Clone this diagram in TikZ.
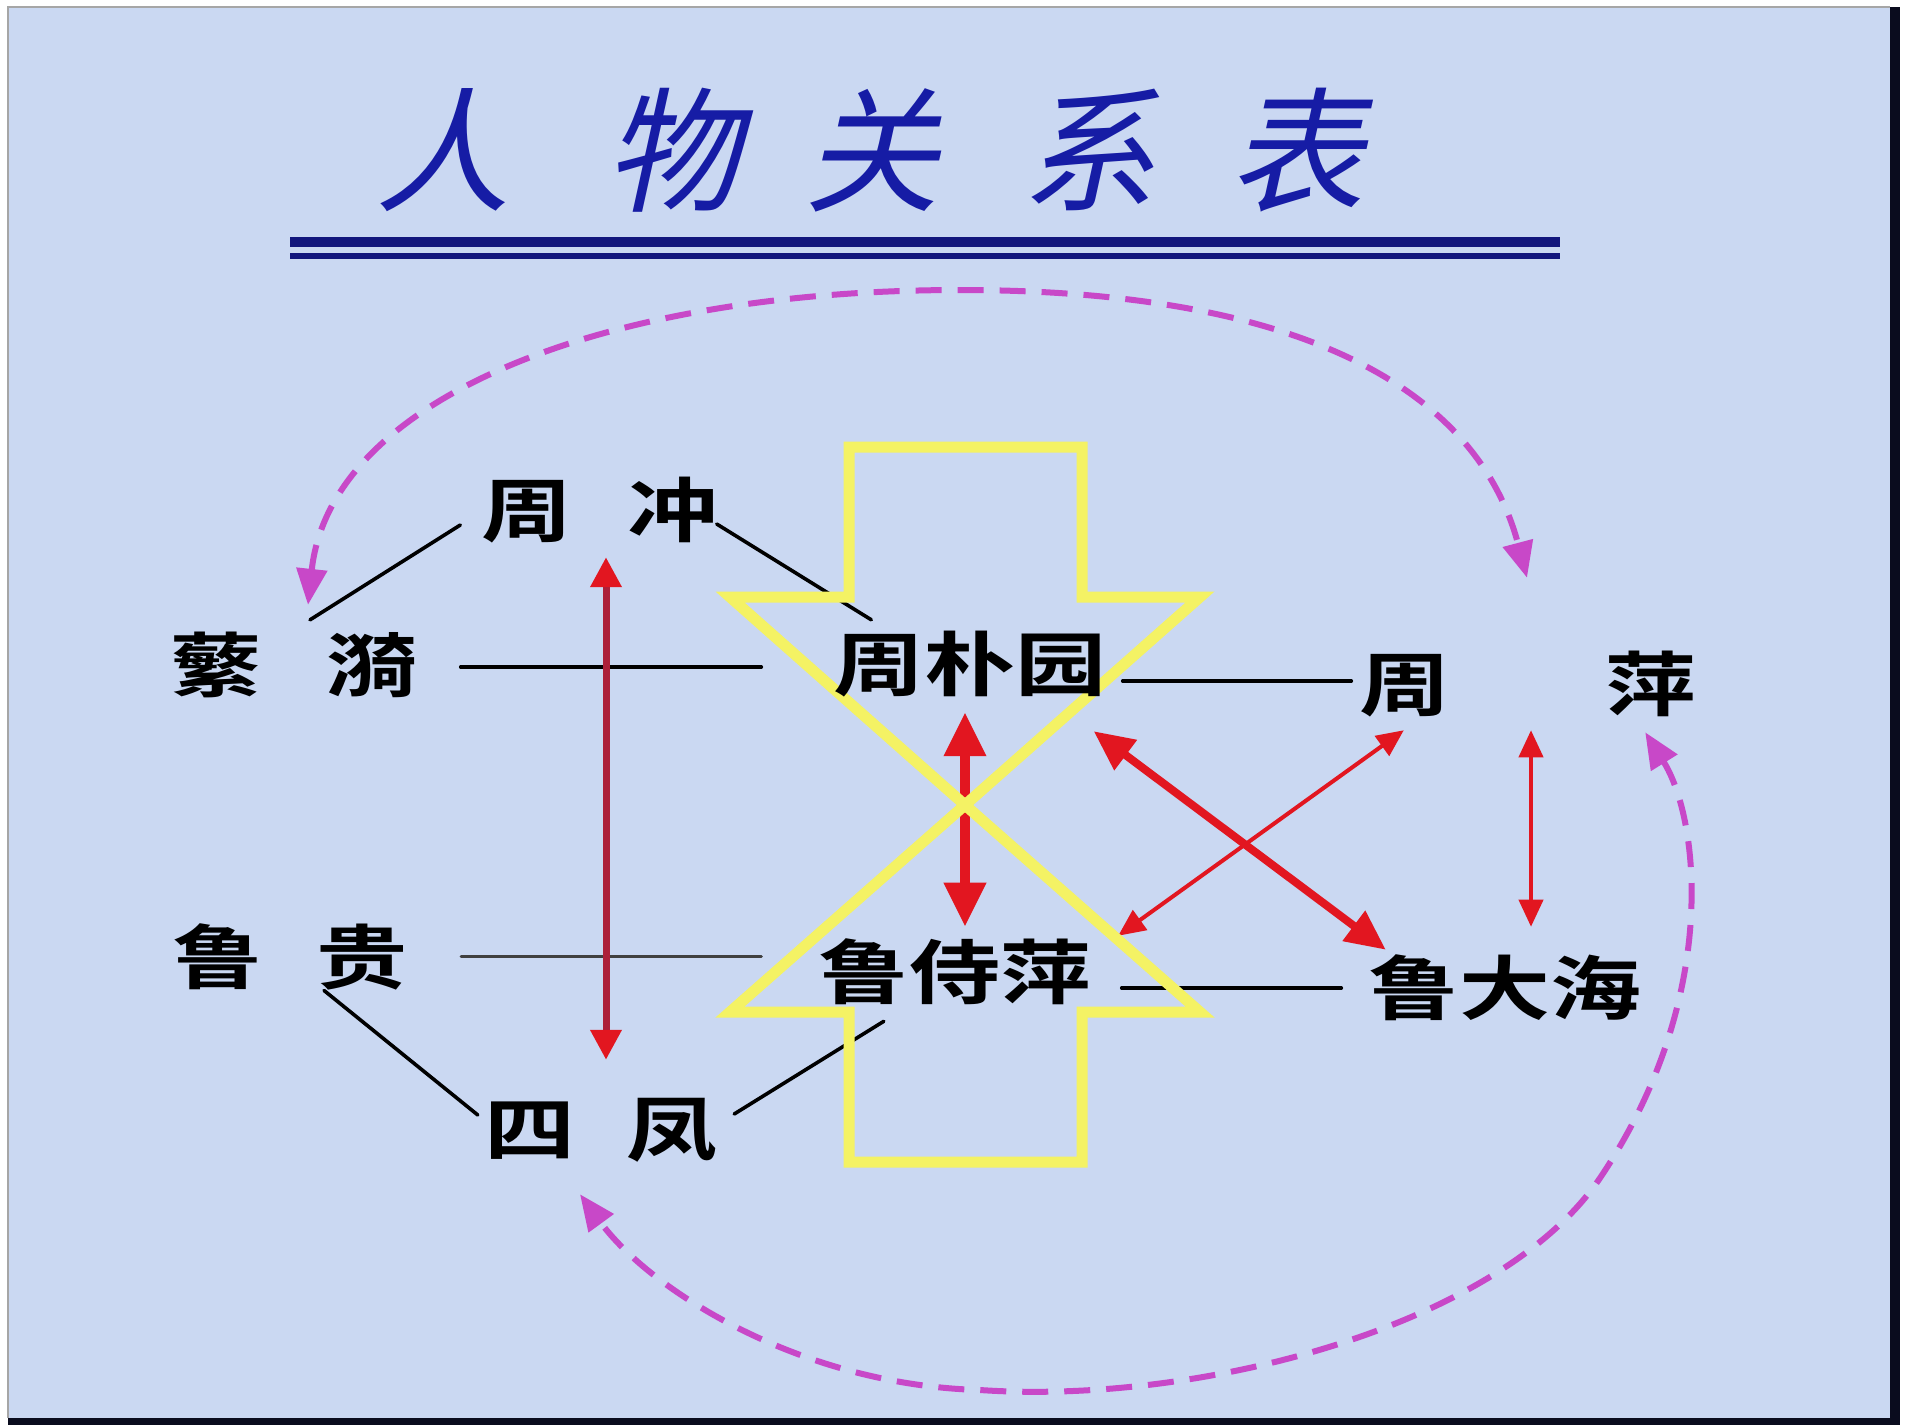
\documentclass[tikz,border=0pt]{standalone}
\usepackage{fontspec}
\usetikzlibrary{arrows.meta,calc}
\newfontfamily\bodyfont{Noto Sans CJK SC Bold}[FakeStretch=1.3]
\newfontfamily\titlefont{Noto Sans CJK SC}[FakeSlant=0.22]
\definecolor{bgc}{RGB}{202,216,242}
\definecolor{framedark}{RGB}{10,12,30}
\definecolor{titleblue}{RGB}{22,28,165}
\definecolor{navyc}{RGB}{18,22,125}
\definecolor{redc}{RGB}{226,22,32}
\definecolor{maroonc}{RGB}{172,32,58}
\definecolor{magc}{RGB}{200,72,200}
\definecolor{yelc}{RGB}{244,242,100}
\pgfdeclarelayer{back}
\pgfdeclarelayer{mid}
\pgfsetlayers{back,mid,main}
\begin{document}
\begin{tikzpicture}[x=1pt,y=-1pt,
  person/.style={font=\bodyfont\fontsize{70}{70}\selectfont, inner sep=0pt, text=black},
  ttl/.style={font=\titlefont\fontsize{135}{135}\selectfont, inner sep=0pt, text=titleblue},
  conn/.style={line width=3.6pt, draw=black, line cap=round},
  connthin/.style={line width=3pt, draw=black!75, line cap=round},
  redleft/.style={line width=7pt, draw=maroonc,
    arrows={Triangle[width=30pt,length=30pt,color=redc]-Triangle[width=30pt,length=30pt,color=redc]}},
  redbig/.style={line width=10pt, draw=redc,
    arrows={Triangle[width=40pt,length=44pt]-Triangle[width=40pt,length=44pt]}},
  reddiag/.style={line width=8pt, draw=redc,
    arrows={Triangle[width=36pt,length=40pt]-Triangle[width=36pt,length=40pt]}},
  redthin/.style={line width=4pt, draw=redc,
    arrows={Triangle[width=24pt,length=27pt]-Triangle[width=24pt,length=27pt]}},
  magdash/.style={line width=6pt, draw=magc, dash pattern=on 26pt off 16pt,
    arrows={Triangle[width=30pt,length=36pt]-Triangle[width=30pt,length=36pt]}},
  yel/.style={line width=11pt, draw=yelc, line join=miter}
]
\useasboundingbox (0,0) rectangle (1919,1425);

% names
\node[person] (zc)  at (600,510)  {周\hspace{55pt}冲};
\node[person] (fy)  at (294,665)  {蘩\hspace{65pt}漪};
\node[person] (zpy) at (970,664)  {周朴园};
\node[person] (zp)  at (1528,684) {周\hspace{155pt}萍};
\node[person] (lg)  at (290,957)  {鲁\hspace{54pt}贵};
\node[person] (lsp) at (955,972)  {鲁侍萍};
\node[person] (ldh) at (1505,988) {鲁大海};
\node[person] (sf)  at (601,1130) {四\hspace{52pt}凤};

% title
\node[ttl] (t1) at (443,150)  {人};
\node[ttl] (t2) at (673,150)  {物};
\node[ttl] (t3) at (872,150)  {关};
\node[ttl] (t4) at (1089,150) {系};
\node[ttl] (t5) at (1297,150) {表};

\begin{pgfonlayer}{back}
  \fill[white] (0,0) rectangle (1919,1425);
  \fill[bgc] (8,7) rectangle (1890,1418);
  \draw[black!35, line width=1.5pt] (8,1418) -- (8,7) -- (1890,7);
  \fill[framedark] (1890,7) rectangle (1900,1425);
  \fill[framedark] (8,1418) rectangle (1900,1425);
  \draw[navyc, line width=10pt] (290,242) -- (1560,242);
  \draw[navyc, line width=6pt] (290,256) -- (1560,256);
\end{pgfonlayer}

\begin{pgfonlayer}{mid}
  % black relation lines
  \draw[conn] ([shift={(-21,15)}]zc.west) -- ([shift={(16,-12)}]fy.north);
  \draw[conn] ([shift={(-2,14)}]zc.east) -- ([shift={(38,-11)}]zpy.north west);
  \draw[conn] ([shift={(43,2)}]fy.east) -- ([shift={(-72,3)}]zpy.west);
  \draw[conn] ([shift={(16,17)}]zpy.east) -- ([shift={(-8,-3)}]zp.west);
  \draw[connthin] ([shift={(53,-1)}]lg.east) -- ([shift={(-57,-16)}]lsp.west);
  \draw[conn] ([shift={(30,16)}]lsp.east) -- ([shift={(-27,0)}]ldh.west);
  \draw[conn] ([shift={(34,0)}]lg.south) -- ([shift={(-6,-15)}]sf.west);
  \draw[conn] ([shift={(16,-16)}]sf.east) -- ([shift={(65.5,16)}]lsp.south west);

  % red arrows
  \draw[redleft] ([shift={(6,14)}]zc.south) -- ([shift={(5,-38)}]sf.north);
  \draw[redbig] ([shift={(-5,15)}]zpy.south) -- ([shift={(10,-12)}]lsp.north);
  \draw[reddiag] ([shift={(-13,34)}]zpy.south east) -- ([shift={(17.5,-5)}]ldh.north west);
  \draw[redthin] ([shift={(44.5,13)}]zp.south west) -- ([shift={(26.5,-3)}]lsp.north east);
  \draw[redthin] ([shift={(3,13)}]zp.south) -- ([shift={(26,-28)}]ldh.north);

  % magenta dashed arcs
  \draw[magdash] ([shift={(14,-27)}]fy.north) .. controls (330,400) and (600,290) .. (960,290)
     .. controls (1320,290) and (1480,400) .. ([shift={(-1,-73)}]zp.north);
  \draw[magdash] ([shift={(-51.5,15)}]zp.south east) .. controls (1700,820) and (1720,1000) .. (1600,1178)
     .. controls (1500,1326) and (1200,1405) .. (980,1390)
     .. controls (800,1385) and (650,1290) .. ([shift={(-21,32)}]sf.south);

  % yellow double arrow
  \draw[yel] (730,597) -- (849,597) -- (849,447) -- (1082,447) -- (1082,597) -- (1200,597) -- (965,805) -- cycle;
  \draw[yel] (730,1012) -- (849,1012) -- (849,1162) -- (1082,1162) -- (1082,1012) -- (1200,1012) -- (965,805) -- cycle;
\end{pgfonlayer}
\end{tikzpicture}
\end{document}
